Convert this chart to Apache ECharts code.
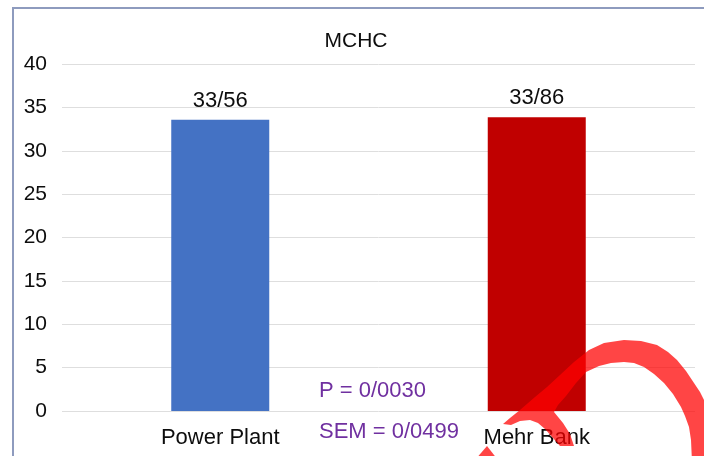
<!DOCTYPE html>
<html>
<head>
<meta charset="utf-8">
<script src="https://cdn.jsdelivr.net/npm/echarts@6/dist/echarts.min.js"></script>
<style>
  html, body { margin: 0; padding: 0; background: #fff; }
  #chart { width: 704px; height: 456px; }
</style>
</head>
<body>
<div id="chart"></div>
<script>
// MCHC comparison between the two groups
const categories = ['Power Plant', 'Mehr Bank'];
const mchcValues = [33.56, 33.86];
const barColors = ['#4472C4', '#C00000'];
const statLines = ['P = 0/0030', 'SEM = 0/0499'];
const yTicks = { min: 0, max: 40, interval: 5 };

const FONT = '"Liberation Sans", Arial, sans-serif';
const INK = '#0d0d0d';

// decimal point is written with a slash
const fmt = v => String(v.toFixed(2)).replace('.', '/');

// outline of the red brush stroke in the lower-right corner
const brushOutline = [
  // upper-left edge, rising to the arch
  [503, 424], [510, 418], [520, 410], [535, 397], [547, 387], [560, 375],
  [574, 362], [589, 350], [604, 343], [624, 340], [641, 341], [657, 345],
  [668, 352], [677, 360], [686, 371], [694, 383], [700, 392], [705, 402],
  [710, 416], [714, 440], [716, 462],
  // inner edge of the arch, coming back down
  [692, 462], [691, 440], [689, 427], [685, 416], [681, 407], [673, 394],
  [664, 383], [654, 374], [644, 367], [634, 363], [624, 362], [611, 363],
  [599, 366], [586, 372], [576, 383], [566, 396], [558, 405], [554, 412],
  // short tail through the label
  [563, 423], [570, 434], [574, 446], [560, 446], [553, 438], [545, 429],
  [538, 423], [530, 420], [520, 421], [511, 425]
];
const brushFoot = [[475, 460], [487, 446], [498, 460]];

const chart = echarts.init(document.getElementById('chart'), null, { renderer: 'canvas' });

chart.setOption({
  backgroundColor: '#ffffff',
  animation: false,
  title: {
    text: 'MCHC',
    left: 351,
    top: 26,
    textAlign: 'center',
    textStyle: { fontFamily: FONT, fontSize: 21, fontWeight: 'normal', color: INK }
  },
  grid: { left: 62, right: 9, top: 64, bottom: 45, containLabel: false },
  xAxis: {
    type: 'category',
    data: categories,
    axisLine: { show: false },
    axisTick: { show: false },
    axisLabel: { fontFamily: FONT, fontSize: 22, color: INK, margin: 16 }
  },
  yAxis: {
    type: 'value',
    min: yTicks.min,
    max: yTicks.max,
    interval: yTicks.interval,
    axisLine: { show: false },
    axisTick: { show: false },
    axisLabel: { fontFamily: FONT, fontSize: 21, color: INK, margin: 15 },
    splitLine: { lineStyle: { color: '#dedede', width: 1 } }
  },
  series: [{
    type: 'bar',
    barWidth: 98,
    data: mchcValues.map((v, i) => ({ value: v, itemStyle: { color: barColors[i] } })),
    label: {
      show: true,
      position: 'top',
      distance: 8,
      fontFamily: FONT,
      fontSize: 22,
      color: INK,
      formatter: p => fmt(p.value)
    }
  }],
  graphic: [
    // outer frame
    {
      type: 'rect', z: 50, silent: true,
      shape: { x: 13, y: 8, width: 720, height: 470 },
      style: { fill: 'none', stroke: '#8E9BBE', lineWidth: 2 }
    },
    {
      type: 'text', z: 60, x: 319, y: 380,
      style: { text: statLines[0], font: '22px ' + FONT, fill: '#7030A0' }
    },
    {
      type: 'text', z: 60, x: 319, y: 421,
      style: { text: statLines[1], font: '22px ' + FONT, fill: '#7030A0' }
    },
    // red brush stroke over the corner
    {
      type: 'polygon', z: 100, silent: true,
      shape: { points: brushOutline },
      style: { fill: 'rgba(255,0,0,0.73)', stroke: null }
    },
    {
      type: 'polygon', z: 100, silent: true,
      shape: { points: brushFoot },
      style: { fill: 'rgba(255,0,0,0.73)', stroke: null }
    }
  ]
});
</script>
</body>
</html>
